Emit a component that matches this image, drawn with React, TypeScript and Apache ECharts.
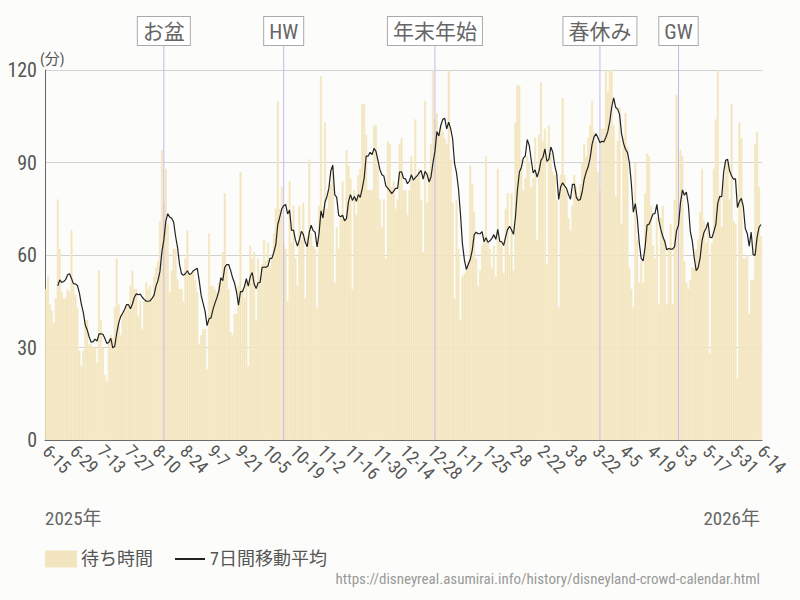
import React, { useEffect, useRef } from "react";
import * as echarts from "echarts";

// Daily average wait time (minutes), 2025-06-15 .. 2026-06-14
const waitJunAug = [49,53,44,42,38,46,78,62,48,46,46,49,48,68,50,47,43,29,24,29,39,39,31,31,30,30,25,55,39,30,21,19,33,34,33,43,59,44,34,41,42,44,43,50,55,49,49,40,45,36,45,51,49,50,45,53,56,58,71,94];
const waitAugOct = [77,88,70,48,55,62,62,52,49,49,45,59,68,54,54,55,52,48,31,34,36,36,23,67,50,50,49,48,51,53,61,80,56,49,35,34,41,41,50,87,49,46,52,24,63,59,61,39,59,53,57,65,58,64,56,59,67,75,110,75,82];
const waitOctDec = [64,62,45,84,64,76,59,50,76,65,77,46,66,91,67,63,62,43,76,118,75,103,75,81,83,89,51,69,62,72,84,71,94,89,85,49,81,73,86,88,109,109,99,81,81,81,102,102,89,78,69,78,59,97,96,82,84,75,78,96,98,81];
const waitDecFeb = [81,73,81,92,84,104,85,88,78,61,110,77,87,96,120,104,106,100,102,100,98,96,120,91,77,46,78,62,39,53,54,55,58,89,83,74,59,50,55,63,66,92,64,62,56,63,53,88,65,63,54,75,80,60,80,55,103,115,115,91,81];
const waitFebApr = [85,92,90,82,85,98,65,99,116,97,101,57,102,93,87,86,78,43,86,111,86,81,72,68,76,86,82,79,83,90,96,92,98,102,110,100,97,87,81,101,101,120,113,120,120,102,79,97,108,70,98,106,95,56,49,43,90,65,51,58,51];
const waitAprJun = [80,93,92,76,63,59,72,44,72,76,65,44,62,70,44,78,112,78,94,92,58,51,49,52,56,56,62,65,74,88,71,64,70,28,64,88,104,120,79,69,85,90,90,78,109,71,70,20,103,98,59,59,60,41,52,52,96,100,82,66];

const waitTimes: number[] = [
  ...waitJunAug, ...waitAugOct, ...waitOctDec, ...waitDecFeb, ...waitFebApr, ...waitAprJun,
];

// Category labels "M-D", one per day starting 2025-06-15
const categories: string[] = waitTimes.map((_, i) => {
  const d = new Date(2025, 5, 15 + i);
  return `${d.getMonth() + 1}-${d.getDate()}`;
});

// 7-day trailing moving average derived from the daily values
const movingAvg: (number | null)[] = waitTimes.map((_, i) =>
  i < 6 ? null : +(waitTimes.slice(i - 6, i + 1).reduce((a, b) => a + b, 0) / 7).toFixed(1)
);

const eventNames = ["お盆", "HW", "年末年始", "春休み", "GW"];
const eventDates = ["8-14", "10-14", "12-30", "3-24", "5-3"];

const yTicks = { min: 0, max: 120, interval: 30 };

const FONT =
  "'Roboto Condensed','Liberation Sans Narrow','DejaVu Sans Condensed',Roboto,'Noto Sans CJK JP',sans-serif";

const BAR_COLOR = "#f3e5bf";

export default function App() {
  const ref = useRef<HTMLDivElement>(null);

  useEffect(() => {
    if (!ref.current) return;
    const chart = echarts.init(ref.current, null, { renderer: "svg" });
    const eventData = eventDates.map((d) => [categories.indexOf(d), 0]);

    chart.setOption({
      animation: false,
      backgroundColor: "#fcfdfa",
      textStyle: { fontFamily: FONT },
      grid: { left: 45, right: 38, top: 70, bottom: 160, containLabel: false },
      legend: {
        left: 45,
        top: 550,
        padding: 0,
        itemWidth: 30,
        itemHeight: 15,
        itemGap: 22,
        selectedMode: false,
        textStyle: { fontSize: 18, color: "#555", fontFamily: FONT },
        data: [
          { name: "待ち時間", icon: "rect" },
          { name: "7日間移動平均", icon: "path://M0,0H30V2H0Z" },
        ],
      },
      xAxis: {
        type: "category",
        data: categories,
        boundaryGap: true,
        axisLine: { lineStyle: { color: "#666", width: 1 } },
        axisTick: { show: false },
        axisLabel: {
          interval: 13,
          rotate: -45,
          fontSize: 18,
          color: "#555",
          margin: 8,
          showMinLabel: true,
          showMaxLabel: true,
          hideOverlap: false,
          fontFamily: FONT,
        },
        splitLine: { show: false },
      },
      yAxis: {
        type: "value",
        min: yTicks.min,
        max: yTicks.max,
        interval: yTicks.interval,
        axisLine: { show: true, lineStyle: { color: "#666", width: 1 } },
        axisTick: { show: false },
        axisLabel: { fontSize: 20, color: "#555", margin: 8, fontFamily: FONT },
        splitLine: { lineStyle: { color: "#d2d2d2", width: 1 } },
      },
      series: [
        {
          name: "待ち時間",
          type: "bar",
          data: waitTimes,
          barCategoryGap: "0%",
          itemStyle: { color: BAR_COLOR, borderColor: BAR_COLOR, borderWidth: 0.7 },
          z: 1,
          silent: true,
        },
        {
          type: "custom",
          name: "events",
          data: eventData,
          encode: { x: 0, y: 1 },
          z: 2,
          silent: true,
          clip: false,
          renderItem: (params: any, api: any) => {
            const idx = api.value(0);
            const bottom = api.coord([idx, 0]);
            const top = api.coord([idx, yTicks.max]);
            const x = bottom[0];
            const boxBottom = top[1] - 25;
            return {
              type: "group",
              children: [
                {
                  type: "line",
                  shape: { x1: x, y1: boxBottom, x2: x, y2: bottom[1] },
                  style: { stroke: "#c6b8ef", lineWidth: 1 },
                },
                {
                  type: "text",
                  x: x,
                  y: boxBottom,
                  style: {
                    text: eventNames[params.dataIndex],
                    align: "center",
                    verticalAlign: "bottom",
                    fontSize: 21,
                    fontFamily: FONT,
                    fill: "#666",
                    backgroundColor: "#fff",
                    borderColor: "#aaa",
                    borderWidth: 1,
                    padding: [4, 5, 3, 5],
                  },
                },
              ],
            };
          },
        },
        {
          name: "7日間移動平均",
          type: "line",
          data: movingAvg,
          symbol: "none",
          connectNulls: false,
          lineStyle: { color: "#222", width: 1.2 },
          itemStyle: { color: "#222" },
          z: 3,
          silent: true,
        },
      ],
      graphic: [
        {
          type: "text",
          left: 40,
          top: 51,
          style: { text: "(分)", fontSize: 15, fill: "#555", fontFamily: FONT },
        },
        {
          type: "text",
          left: 45,
          top: 509,
          style: { text: "2025年", fontSize: 19, fill: "#666", fontFamily: FONT },
        },
        {
          type: "text",
          right: 40,
          top: 509,
          style: { text: "2026年", fontSize: 19, fill: "#666", fontFamily: FONT },
        },
        {
          type: "text",
          right: 40,
          top: 571,
          style: {
            text: "https://disneyreal.asumirai.info/history/disneyland-crowd-calendar.html",
            fontSize: 15,
            fill: "#999",
            fontFamily: FONT,
          },
        },
      ],
    });

    return () => chart.dispose();
  }, []);

  return (
    <div
      ref={ref}
      style={{ position: "absolute", left: 0, top: 0, width: 800, height: 600 }}
    />
  );
}
